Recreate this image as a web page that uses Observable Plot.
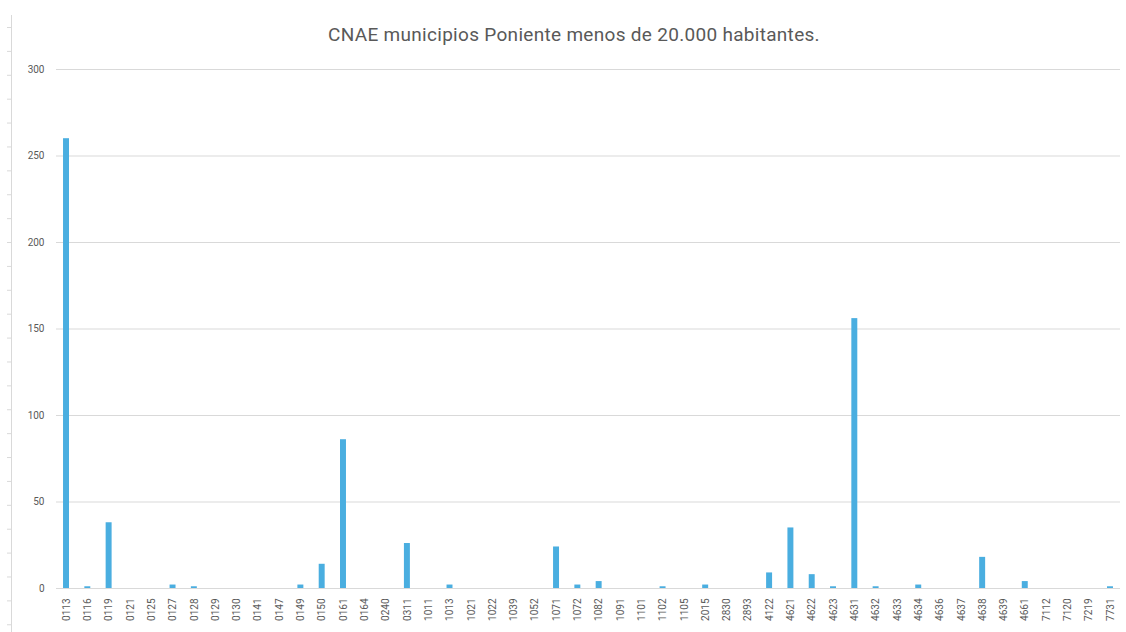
<!DOCTYPE html>
<html>
<head>
<meta charset="utf-8">
<script src="https://cdn.jsdelivr.net/npm/d3@7"></script>
<script src="https://cdn.jsdelivr.net/npm/@observablehq/plot@0.6"></script>
<style>
  html, body { margin: 0; padding: 0; background: #fff; }
  #wrap { position: relative; width: 1126px; height: 632px; overflow: hidden; font-family: Roboto, "Liberation Sans", sans-serif; }
  #title { position: absolute; top: 23px; left: 0; width: 1126px; padding-left: 22px; box-sizing: border-box; text-align: center; font-size: 19px; color: #595959; letter-spacing: 0.3px; }
  #edge { position: absolute; left: 7px; top: 15px; width: 4px; height: 620px; border-right: 1px solid #d9d9d9;
          background-image: linear-gradient(to bottom, #d9d9d9 1px, transparent 1px);
          background-size: 4px 23.9px; background-repeat: repeat-y; background-position: 0 12px; }
  #chart { position: absolute; left: 0; top: 0; }
</style>
</head>
<body>
<div id="wrap">
  <div id="edge"></div>
  <div id="chart"></div>
  <div id="title">CNAE municipios Poniente menos de 20.000 habitantes.</div>
</div>
<script>
const categories = ["0113","0116","0119","0121","0125","0127","0128","0129","0130","0141","0147","0149","0150","0161","0164","0240","0311","1011","1013","1021","1022","1039","1052","1071","1072","1082","1091","1101","1102","1105","2015","2830","2893","4122","4621","4622","4623","4631","4632","4633","4634","4636","4637","4638","4639","4661","7112","7120","7219","7731"];
const counts = [260,1,38,0,0,2,1,0,0,0,0,2,14,86,0,0,26,0,2,0,0,0,0,24,2,4,0,0,1,0,2,0,0,9,35,8,1,156,1,0,2,0,0,18,0,4,0,0,0,1];
const yTicks = [0,50,100,150,200,250,300];

const data = categories.map((c, i) => ({cnae: c, n: counts[i]}));

const chart = Plot.plot({
  width: 1126,
  height: 632,
  marginLeft: 56,
  marginRight: 6,
  marginTop: 69,
  marginBottom: 44,
  style: {fontFamily: "Roboto, 'Liberation Sans', sans-serif", background: "transparent"},
  x: {domain: categories, paddingInner: 0.72, paddingOuter: 0.33, round: false, label: null},
  y: {domain: [0, 300], label: null},
  marks: [
    Plot.gridY(yTicks, {stroke: "#d9d9d9", strokeOpacity: 1, strokeWidth: 1}),
    Plot.barY(data, {x: "cnae", y: "n", fill: "#4aaee0"}),
    Plot.axisY(yTicks, {tickSize: 0, tickPadding: 12, fontSize: 10, fill: "#595959", label: null}),
    Plot.axisX({tickSize: 0, tickPadding: 10, tickRotate: -90, fontSize: 10, fill: "#595959", label: null})
  ]
});
document.getElementById("chart").appendChild(chart);
</script>
</body>
</html>
